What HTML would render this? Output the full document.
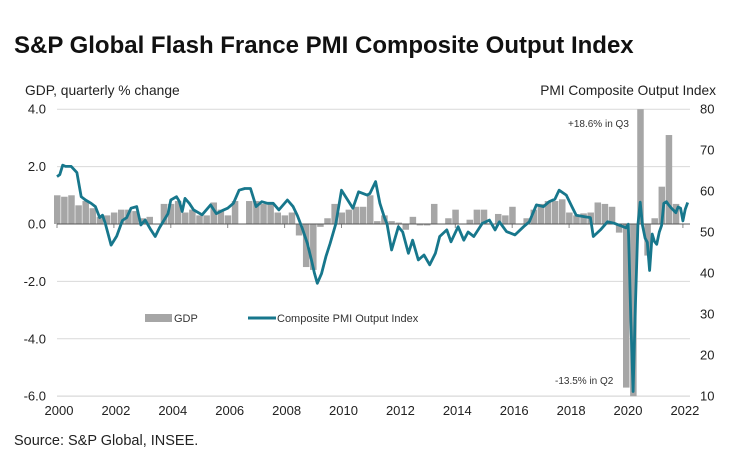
<!DOCTYPE html>
<html><head><meta charset="utf-8"><style>
body{margin:0;background:#fff;}
svg{display:block;font-family:"Liberation Sans",Arial,sans-serif;}
</style></head><body>
<svg id="chart" width="737" height="467" viewBox="0 0 737 467">
<text x="14" y="53" font-size="24" font-weight="bold" fill="#111">S&amp;P Global Flash France PMI Composite Output Index</text>
<text x="25" y="95" font-size="13.8" fill="#222">GDP, quarterly % change</text>
<text x="716" y="95" font-size="13.7" fill="#222" text-anchor="end">PMI  Composite Output Index</text>
<text x="14" y="445" font-size="14.5" fill="#222">Source: S&amp;P Global, INSEE.</text>
<g id="grid"></g><g id="bars"></g><g id="axes"></g><g id="line"></g><g id="labels"></g>
<g>
<rect x="145" y="314" width="27" height="8" fill="#a6a6a6"/>
<text x="174" y="322" font-size="11" fill="#333">GDP</text>
<line x1="248" y1="318" x2="276" y2="318" stroke="#17778c" stroke-width="3"/>
<text x="277" y="322" font-size="11" fill="#333">Composite PMI Output Index</text>
</g>
<text x="568" y="127" font-size="10" fill="#333">+18.6% in Q3</text>
<text x="555" y="384" font-size="10" fill="#333">-13.5% in Q2</text>
</svg>
<script>
const gdpStartYear = 2000;
const gdpValues = [1.0,0.95,1.0,0.65, 0.8,0.55,0.25,0.3, 0.4,0.5,0.5,0.45, 0.2,0.25,0.0,0.7, 0.7,0.8,0.4,0.5, 0.3,0.3,0.75,0.5, 0.3,0.8,0.0,0.8, 0.8,0.7,0.7,0.4, 0.3,0.4,-0.4,-1.5, -1.6,-0.1,0.2,0.7, 0.4,0.5,0.6,0.6, 1.0,0.1,0.3,0.1, 0.05,-0.2,0.25,-0.05, -0.05,0.7,0.0,0.2, 0.5,0.0,0.15,0.5, 0.5,0.0,0.35,0.3, 0.6,0.0,0.2,0.5, 0.7,0.8,0.8,0.86, 0.4,0.3,0.37,0.4, 0.75,0.7,0.6,-0.3, -5.7,-13.5,18.6,-1.1, 0.2,1.3,3.1,0.7, 0.0];
const pmiDates = [2000.0,2000.1,2000.2,2000.3,2000.5,2000.7,2000.85,2001.0,2001.2,2001.35,2001.5,2001.6,2001.7,2001.9,2002.1,2002.3,2002.45,2002.6,2002.8,2002.95,2003.1,2003.3,2003.45,2003.6,2003.9,2004.0,2004.2,2004.3,2004.4,2004.5,2004.65,2004.8,2005.1,2005.4,2005.6,2005.8,2006.0,2006.2,2006.4,2006.6,2006.8,2007.0,2007.2,2007.4,2007.6,2007.8,2008.1,2008.3,2008.45,2008.6,2008.8,2008.95,2009.05,2009.15,2009.3,2009.45,2009.6,2009.8,2010.0,2010.2,2010.4,2010.6,2010.9,2011.0,2011.2,2011.35,2011.5,2011.6,2011.76,2012.0,2012.15,2012.35,2012.5,2012.7,2012.9,2013.1,2013.3,2013.45,2013.7,2013.85,2014.1,2014.3,2014.45,2014.65,2014.95,2015.2,2015.4,2015.55,2015.8,2016.1,2016.4,2016.6,2016.85,2017.1,2017.3,2017.5,2017.65,2017.9,2018.1,2018.25,2018.55,2018.75,2018.85,2019.1,2019.35,2019.6,2019.9,2020.0,2020.08,2020.17,2020.25,2020.33,2020.42,2020.5,2020.58,2020.67,2020.75,2020.83,2020.92,2021.0,2021.08,2021.17,2021.25,2021.33,2021.42,2021.5,2021.58,2021.67,2021.75,2021.83,2021.92,2022.0,2022.08,2022.17];
const pmiValues = [63.5,64,66.3,66,66,64.5,58.6,57.8,57,56.2,53.5,54.1,52,46.8,49,52.8,53.5,55.8,56.2,51.7,52.9,50.5,48.9,51,54.5,57.8,58.6,57.5,55,58.2,57,55.4,54.2,56.6,54.5,55.2,55.8,57,60.2,60.6,60.6,56.2,57.4,57,57,55.4,57.8,56.2,54,51.3,47.2,43,39.9,37.5,39.9,44,47.2,52,60.2,58,55.8,59.8,59,59.4,62.3,57,53.7,52,45.6,51.3,50,44.8,48,43.2,44.4,42,44.8,48.9,50.5,47.6,51.3,48,50,48.9,52.1,52.9,50.5,52.5,50.1,49.3,51.3,52.5,56.6,56.2,57.4,58,60.2,59,56.2,54.1,53.7,53.5,48.9,50.5,52.5,52.1,51.3,51,51.9,28.9,11.1,32.1,51.7,57.3,51.6,48.5,47.5,40.6,49.5,47.7,47,50,51.6,57,57.4,56.6,55.9,55.3,54.7,56.1,55.8,52.7,55.5,57.2];
const leftTicks = ["4.0","2.0","0.0","-2.0","-4.0","-6.0"];
const rightTicks = ["80","70","60","50","40","30","20","10"];
const yearTicks = ["2000","2002","2004","2006","2008","2010","2012","2014","2016","2018","2020","2022"];

const NS="http://www.w3.org/2000/svg";
const X0=57,X1=690,PX=28.45;
const x=t=>X0+(t-2000)*PX;
const yL=v=>224-v*28.7;
const yR=v=>109+(80-v)*4.1;
const TOP=109,BOT=396;
function mk(tag,attrs,parent){const e=document.createElementNS(NS,tag);for(const k in attrs)e.setAttribute(k,attrs[k]);parent.appendChild(e);return e;}
const grid=document.getElementById('grid'),bars=document.getElementById('bars'),axes=document.getElementById('axes'),line=document.getElementById('line'),labels=document.getElementById('labels');
leftTicks.forEach(s=>{const v=parseFloat(s);const yy=yL(v);
 if(v!==0){const g=mk('line',{x1:X0,x2:X1,y1:yy,y2:yy,stroke:'#d9d9d9','stroke-width':1},grid);
 
 }
 const t=mk('text',{x:46,y:yy+4.5,'font-size':13,fill:'#222','text-anchor':'end'},labels);t.textContent=s;
 
 });
rightTicks.forEach(s=>{const yy=yR(parseFloat(s));
 const t=mk('text',{x:700,y:yy+4.5,'font-size':13,fill:'#222'},labels);t.textContent=s;
 
 });
yearTicks.forEach(s=>{const xx=x(parseFloat(s));
 const t=mk('text',{x:xx+2,y:415,'font-size':13,fill:'#222','text-anchor':'middle'},labels);t.textContent=s;
 
 
 const tk=mk('line',{x1:xx,x2:xx,y1:224,y2:228,stroke:'#888'},axes);
 
 });
gdpValues.forEach((v,i)=>{const t=gdpStartYear+i/4;const xa=x(t)-3,w=PX/4-0.6;
 const vc=Math.max(-6,Math.min(4,v));const ya=Math.min(yL(vc),yL(0)),h=Math.abs(yL(vc)-yL(0));
 const r=mk('rect',{x:xa,y:ya,width:w,height:h,fill:'#a6a6a6'},bars);
 
 });
const z=mk('line',{x1:X0,x2:X1,y1:224,y2:224,stroke:'#555','stroke-width':1},axes);


const b=mk('line',{x1:X0,x2:X1,y1:BOT,y2:BOT,stroke:'#d9d9d9','stroke-width':1},grid);


const d=pmiDates.map((t,i)=>(i?'L':'M')+x(t).toFixed(1)+','+yR(pmiValues[i]).toFixed(1)).join(' ');
const p=mk('path',{d:d,fill:'none',stroke:'#17778c','stroke-width':2.8,'stroke-linejoin':'round'},line);


</script>
</body></html>
